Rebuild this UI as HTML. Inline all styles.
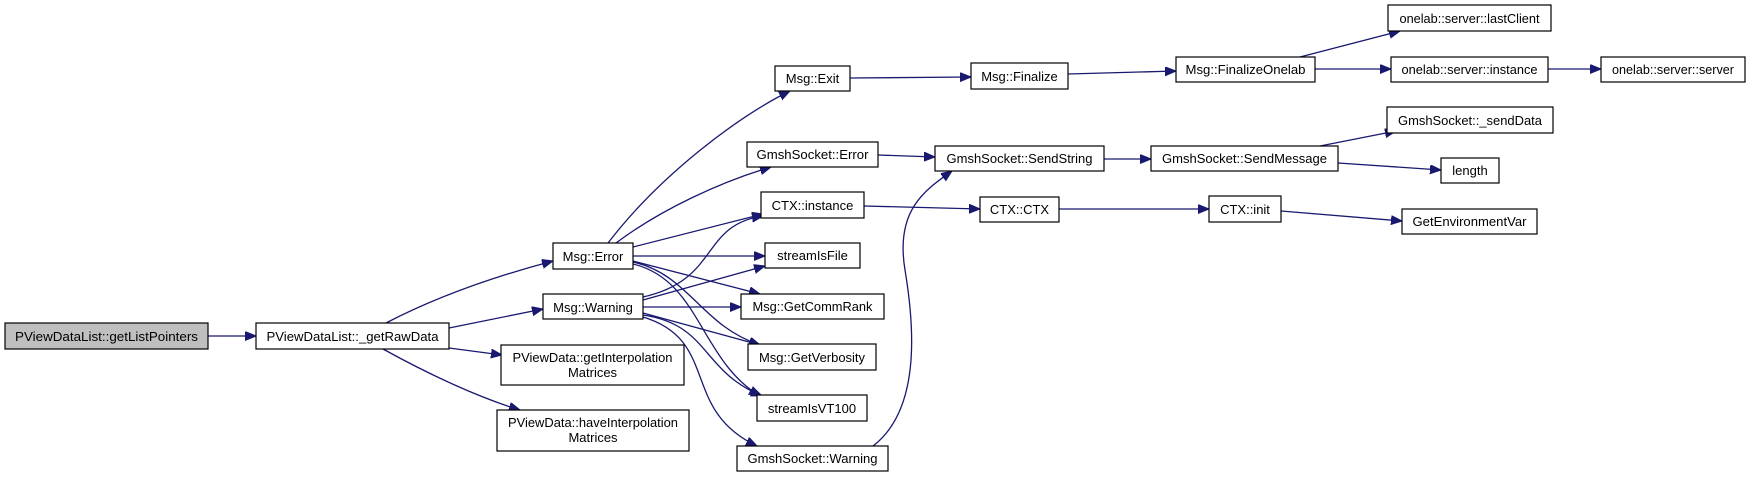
<!DOCTYPE html>
<html><head><meta charset="utf-8"><style>
html,body{margin:0;padding:0;background:#fff;}
svg{display:block;}
text{font-family:"Liberation Sans",Arial,sans-serif;font-size:13px;fill:#000;}
.n{fill:#fff;stroke:#000;stroke-width:1.2;}
.e{fill:none;stroke:#191970;stroke-width:1.3;}
</style></head><body>
<svg width="1751" height="477" viewBox="0 0 1751 477" xmlns="http://www.w3.org/2000/svg">
<defs>
<marker id="a" markerUnits="userSpaceOnUse" markerWidth="12" markerHeight="10" refX="11" refY="4.5" orient="auto">
<path d="M0,0 L11,4.5 L0,9 Z" fill="#191970" stroke="#191970"/>
</marker>
</defs>
<g>
<path class="e" marker-end="url(#a)" d="M208,336 L256,336"/>
<path class="e" marker-end="url(#a)" d="M386,323 C440,295 500,275 553,261"/>
<path class="e" marker-end="url(#a)" d="M449,328 L543,309"/>
<path class="e" marker-end="url(#a)" d="M449,348 L502,355"/>
<path class="e" marker-end="url(#a)" d="M383,349 C430,375 480,398 520,410"/>
<path class="e" marker-end="url(#a)" d="M608,243 C660,175 740,115 790,91"/>
<path class="e" marker-end="url(#a)" d="M616,243 C660,210 720,182 771,167"/>
<path class="e" marker-end="url(#a)" d="M633,247 L763,214"/>
<path class="e" marker-end="url(#a)" d="M633,256 L765,256"/>
<path class="e" marker-end="url(#a)" d="M633,261 L760,294"/>
<path class="e" marker-end="url(#a)" d="M633,262 C690,275 700,325 760,345"/>
<path class="e" marker-end="url(#a)" d="M633,264 C700,280 700,360 760,396"/>
<path class="e" marker-end="url(#a)" d="M643,297 C720,280 700,225 763,216"/>
<path class="e" marker-end="url(#a)" d="M643,300 L765,266"/>
<path class="e" marker-end="url(#a)" d="M643,307 L741,307"/>
<path class="e" marker-end="url(#a)" d="M643,313 L760,345"/>
<path class="e" marker-end="url(#a)" d="M643,315 C710,325 700,370 762,396"/>
<path class="e" marker-end="url(#a)" d="M643,317 C720,340 680,410 757,446"/>
<path class="e" marker-end="url(#a)" d="M873,446 C920,410 915,330 905,270 C895,210 925,190 952,171"/>
<path class="e" marker-end="url(#a)" d="M850,78 L971,77"/>
<path class="e" marker-end="url(#a)" d="M1068,74 L1176,71"/>
<path class="e" marker-end="url(#a)" d="M1300,57 L1400,31"/>
<path class="e" marker-end="url(#a)" d="M1315,69 L1391,69"/>
<path class="e" marker-end="url(#a)" d="M1548,69 L1601,69"/>
<path class="e" marker-end="url(#a)" d="M878,155 L935,157"/>
<path class="e" marker-end="url(#a)" d="M1104,159 L1151,159"/>
<path class="e" marker-end="url(#a)" d="M1320,146 L1396,131"/>
<path class="e" marker-end="url(#a)" d="M1338,163 L1441,170"/>
<path class="e" marker-end="url(#a)" d="M864,206 L980,209"/>
<path class="e" marker-end="url(#a)" d="M1059,209 L1209,209"/>
<path class="e" marker-end="url(#a)" d="M1281,211 L1402,221"/>
</g>
<g>
<rect x="5" y="323" width="203" height="26" fill="#bfbfbf" stroke="#000" stroke-width="1.2"/>
<text x="106.5" y="341" text-anchor="middle" textLength="183" lengthAdjust="spacingAndGlyphs">PViewDataList::getListPointers</text>

<rect class="n" x="256" y="323" width="193" height="26"/>
<text x="352.5" y="341" text-anchor="middle" textLength="172" lengthAdjust="spacingAndGlyphs">PViewDataList::_getRawData</text>

<rect class="n" x="553" y="243" width="80" height="26"/>
<text x="593" y="261" text-anchor="middle">Msg::Error</text>

<rect class="n" x="543" y="294" width="100" height="25"/>
<text x="593" y="312" text-anchor="middle">Msg::Warning</text>

<rect class="n" x="501" y="345" width="183" height="40"/>
<text x="592.5" y="362" text-anchor="middle" textLength="160" lengthAdjust="spacingAndGlyphs">PViewData::getInterpolation</text>
<text x="592.5" y="377" text-anchor="middle">Matrices</text>

<rect class="n" x="497" y="410" width="192" height="41"/>
<text x="593" y="427" text-anchor="middle" textLength="170" lengthAdjust="spacingAndGlyphs">PViewData::haveInterpolation</text>
<text x="593" y="442" text-anchor="middle">Matrices</text>

<rect class="n" x="775" y="66" width="75" height="25"/>
<text x="812.5" y="83" text-anchor="middle">Msg::Exit</text>

<rect class="n" x="747" y="142" width="131" height="25"/>
<text x="812.5" y="159" text-anchor="middle" textLength="112" lengthAdjust="spacingAndGlyphs">GmshSocket::Error</text>

<rect class="n" x="761" y="192" width="103" height="26"/>
<text x="812.5" y="210" text-anchor="middle">CTX::instance</text>

<rect class="n" x="765" y="243" width="95" height="25"/>
<text x="812.5" y="260" text-anchor="middle">streamIsFile</text>

<rect class="n" x="741" y="294" width="143" height="25"/>
<text x="812.5" y="311" text-anchor="middle" textLength="120" lengthAdjust="spacingAndGlyphs">Msg::GetCommRank</text>

<rect class="n" x="748" y="344" width="128" height="26"/>
<text x="812" y="362" text-anchor="middle" textLength="106" lengthAdjust="spacingAndGlyphs">Msg::GetVerbosity</text>

<rect class="n" x="757" y="395" width="110" height="26"/>
<text x="812" y="413" text-anchor="middle">streamIsVT100</text>

<rect class="n" x="737" y="446" width="151" height="25"/>
<text x="812.5" y="463" text-anchor="middle" textLength="130" lengthAdjust="spacingAndGlyphs">GmshSocket::Warning</text>

<rect class="n" x="971" y="63" width="97" height="26"/>
<text x="1019.5" y="81" text-anchor="middle">Msg::Finalize</text>

<rect class="n" x="935" y="146" width="169" height="25"/>
<text x="1019.5" y="163" text-anchor="middle" textLength="146" lengthAdjust="spacingAndGlyphs">GmshSocket::SendString</text>

<rect class="n" x="980" y="197" width="79" height="25"/>
<text x="1019.5" y="214" text-anchor="middle">CTX::CTX</text>

<rect class="n" x="1176" y="57" width="139" height="25"/>
<text x="1245.5" y="74" text-anchor="middle" textLength="120" lengthAdjust="spacingAndGlyphs">Msg::FinalizeOnelab</text>

<rect class="n" x="1151" y="146" width="187" height="25"/>
<text x="1244.5" y="163" text-anchor="middle" textLength="165" lengthAdjust="spacingAndGlyphs">GmshSocket::SendMessage</text>

<rect class="n" x="1209" y="196" width="72" height="26"/>
<text x="1245" y="214" text-anchor="middle">CTX::init</text>

<rect class="n" x="1388" y="5" width="163" height="26"/>
<text x="1469.5" y="23" text-anchor="middle" textLength="140" lengthAdjust="spacingAndGlyphs">onelab::server::lastClient</text>

<rect class="n" x="1391" y="57" width="157" height="25"/>
<text x="1469.5" y="74" text-anchor="middle" textLength="136" lengthAdjust="spacingAndGlyphs">onelab::server::instance</text>

<rect class="n" x="1601" y="57" width="144" height="25"/>
<text x="1673" y="74" text-anchor="middle" textLength="122" lengthAdjust="spacingAndGlyphs">onelab::server::server</text>

<rect class="n" x="1387" y="107" width="166" height="26"/>
<text x="1470" y="125" text-anchor="middle" textLength="144" lengthAdjust="spacingAndGlyphs">GmshSocket::_sendData</text>

<rect class="n" x="1441" y="158" width="58" height="25"/>
<text x="1470" y="175" text-anchor="middle">length</text>

<rect class="n" x="1402" y="209" width="135" height="25"/>
<text x="1469.5" y="226" text-anchor="middle" textLength="114" lengthAdjust="spacingAndGlyphs">GetEnvironmentVar</text>
</g>
</svg>
</body></html>
